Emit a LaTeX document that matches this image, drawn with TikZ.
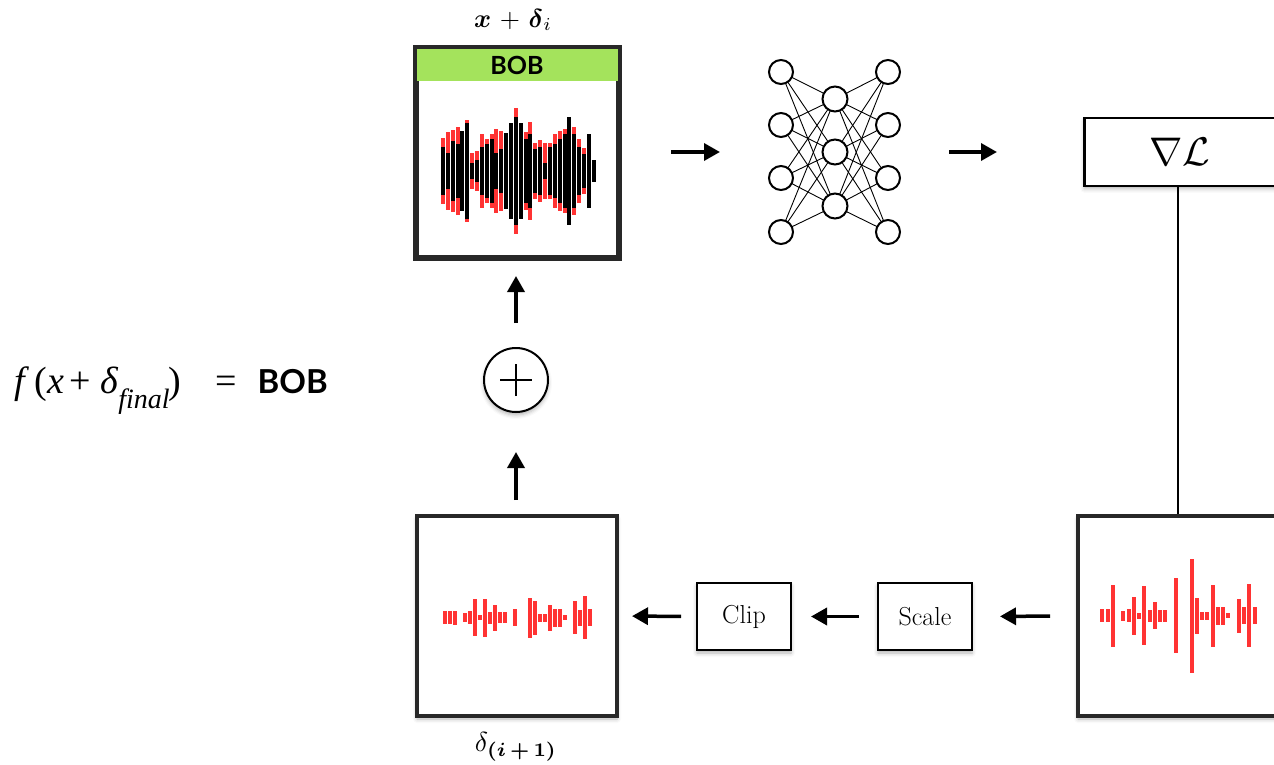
\documentclass[tikz,border=0pt]{standalone}
\usepackage{amsmath}
\usepackage{graphicx}
\usepackage{fontspec}
\newfontfamily\latofont{Lato}
\newfontfamily\serifit{Liberation Serif}
\usetikzlibrary{arrows.meta,shadows.blur}

\definecolor{wavered}{RGB}{255,51,51}
\definecolor{labelgreen}{RGB}{164,227,92}
\definecolor{frame}{RGB}{40,40,40}

\tikzset{
  soft/.style={blur shadow={shadow xshift=0pt, shadow yshift=-3pt,
      shadow blur radius=4pt, shadow opacity=30}},
  bigbox/.style={draw=frame, line width=4pt, fill=white, inner sep=0pt,
      minimum width=200pt, minimum height=200pt},
  opbox/.style={draw=black, line width=2pt, fill=white, inner sep=0pt,
      minimum width=94pt, minimum height=67pt, soft,
      font=\fontsize{26}{30}\selectfont},
  arr/.style={line width=3.5pt, -{Triangle[length=16pt,width=17pt]}},
  neuron/.style={circle, draw=black, line width=2pt, fill=white,
      inner sep=0pt, minimum size=24pt},
  link/.style={line width=0.9pt},
}

\begin{document}
\begin{tikzpicture}[x=1pt, y=-1pt]
\useasboundingbox (0,0) rectangle (1274,765);
\clip (0,0) rectangle (1274,765);

% ---------- input signal x + delta_i ----------
\node[bigbox, minimum width=201pt, minimum height=208pt] (sig) at (517.5,153) {};
\fill[labelgreen] ([xshift=2pt,yshift=-2pt]sig.north west)
   rectangle ([xshift=-2pt,yshift=-34pt]sig.north east);
\draw[frame, line width=4pt] (415,47) rectangle (620,259);
\node[font=\fontsize{25}{28}\selectfont\latofont\bfseries] (sigclass) at (517,65) {BOB};
\node (siglabel) at (513,20)
   {\scalebox{2.6}{$\boldsymbol{x} \mkern2mu+\mkern2mu \boldsymbol{\delta}_i$}};

% waveform: black samples with red perturbation tips
\foreach \b/\r [count=\i from 0] in {
  24/33, 18/39, 30/41, 27/44, 40/40, 48/51, 8/18, 11/20,
  24/37, 27/32, 32/37, 18/42, 22/40, 38/38, 48/48, 54/63,
  48/48, 32/39, 37/49, 22/28, 24/31, 8/28, 24/28, 27/37,
  32/40, 37/42, 54/54, 37/44, 24/32, 17/23, 37/37, 11/11}{
  \fill[wavered] ({441+\i*4.86},{171-\r}) rectangle ++(4,{2*\r});
  \fill[black]   ({441+\i*4.86},{171-\b}) rectangle ++(4,{2*\b});
}

% ---------- network ----------
\foreach \k/\yy in {1/72, 2/125, 3/178, 4/232}{
  \coordinate (L\k) at (781,\yy);
  \coordinate (R\k) at (888,\yy);
}
\foreach \k/\yy in {1/99, 2/152, 3/206}{
  \coordinate (M\k) at (835,\yy);
}
\foreach \a in {1,2,3,4}{
  \foreach \m in {1,2,3}{
    \draw[link] (L\a) -- (M\m);
    \draw[link] (M\m) -- (R\a);
  }
}
\foreach \k in {1,2,3,4}{
  \node[neuron] (nl\k) at (L\k) {};
  \node[neuron] (nr\k) at (R\k) {};
}
\foreach \k in {1,2,3}{
  \node[neuron, minimum size=25pt] (nm\k) at (M\k) {};
}

% ---------- gradient ----------
\node[draw=black, line width=2.5pt, fill=white, soft, minimum width=191.5pt,
      minimum height=67.5pt, inner sep=0pt] (grad) at (1180,152)
   {\scalebox{4}{$\nabla\mathcal{L}$}\hspace{14pt}};

\node[bigbox, soft] (gbox) at (1178,616) {};
\draw[line width=1.5pt] (grad.south -| gbox.north) -- (gbox.north);
\foreach \s/\h in {0/6.7, 1/6.7, 2/31, 4/4.8, 5/6.7, 6/19, 7/2.8, 8/29.5,
  9/6.2, 10/13.3, 11/5.8, 12/5.8, 14/37.5, 17/56.8, 18/17.8, 19/4.2, 20/4.2,
  21/30.8, 22/9.2, 23/9.2, 24/2.5, 26/17.2, 27/8.3, 28/31.7, 29/8.3}{
  \fill[wavered] ({1100.3+\s*5.25},{615.7-\h}) rectangle ++(4,{2*\h});
}

% ---------- scale and clip ----------
\node[opbox] (scale) at (925,616.5) {Scale};
\node[opbox] (clipop) at (744,616.5) {Clip};

% ---------- next perturbation ----------
\node[bigbox, soft] (delta) at (517,616) {};
\foreach \s/\h in {0/6.7, 1/6.7, 2/7.2, 4/4.7, 5/6.7, 6/18.3, 7/2.7, 8/18.8,
  9/5.8, 10/12.8, 11/5.5, 12/5.5, 14/8.3, 17/20, 18/16.8, 19/3.8, 20/3.8,
  21/12.8, 22/8.8, 23/8.8, 24/2.5, 26/16.5, 27/7.8, 28/21.7, 29/8.3}{
  \fill[wavered] ({443.3+\s*5},{617.7-\h}) rectangle ++(4,{2*\h});
}
\node (deltalabel) at (516,747)
   {\scalebox{2.75}{$\delta_{\boldsymbol{(i\,+\,1)}}$}};

% ---------- sum ----------
\node[circle, draw=black, line width=2pt, fill=white, soft,
      minimum size=64pt, inner sep=0pt] (plus) at (516,380) {};
\draw[line width=2pt] ([xshift=-16pt]plus.center) -- ([xshift=16pt]plus.center);
\draw[line width=2pt] ([yshift=-16pt]plus.center) -- ([yshift=16pt]plus.center);

% ---------- connectors ----------
\draw[arr, shorten <=51pt, shorten >=48pt] (sig.east |- nm2) -- (nl2.west |- nm2);
\draw[arr, shorten <=48pt, shorten >=86pt] (nr2.east |- grad.west) -- (grad.west);
\draw[arr, shorten <=26pt, shorten >=27pt] (gbox.west) -- (scale.east);
\draw[arr, shorten <=18pt, shorten >=19pt] (scale.west) -- (clipop.east);
\draw[arr, shorten <=15pt, shorten >=13pt] (clipop.west) -- (delta.east);
\draw[arr, shorten <=14pt, shorten >=39pt] (delta.north -| plus.south) -- (plus.south);
\draw[arr, shorten <=24pt, shorten >=17pt] (plus.north) -- (plus.north |- sig.south);

% ---------- final result ----------
\node[anchor=base west, inner sep=0pt] (result) at (14,393)
  {\fontsize{38}{42}\selectfont\serifit
   \textit{f}\kern5pt(\kern1pt\textit{x}\kern5pt+\kern9pt\textit{δ}\raisebox{-15pt}{\fontsize{28}{30}\selectfont\textit{final}}\kern-1pt)\kern34pt=\kern21pt{\fontsize{33}{36}\selectfont\latofont\bfseries BOB}};
\end{tikzpicture}
\end{document}
